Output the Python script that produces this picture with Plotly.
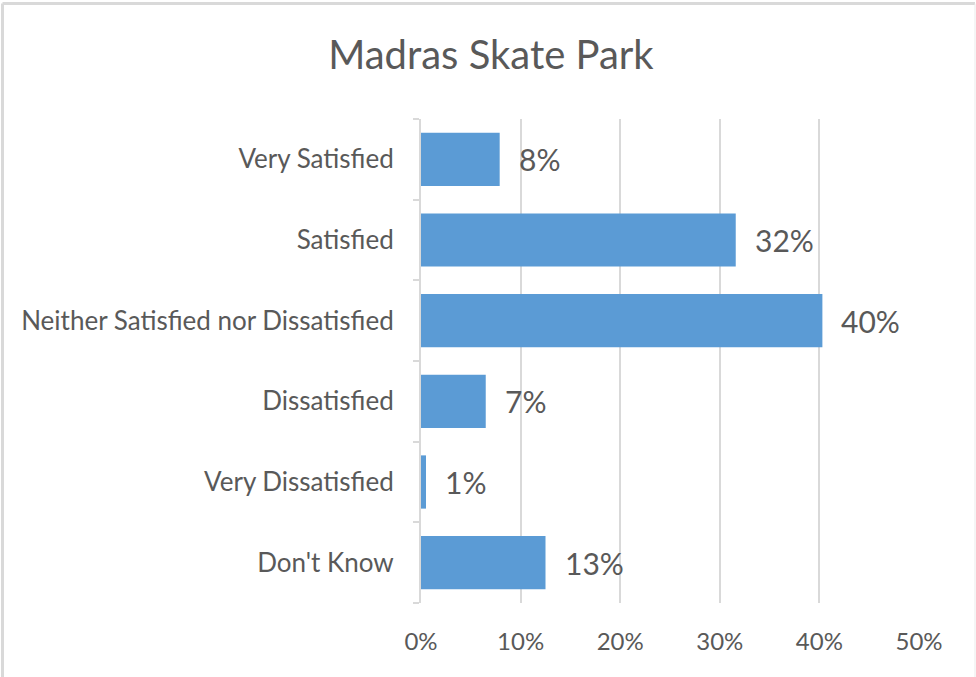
import plotly.graph_objects as go

# Survey responses, top to bottom as shown
categories = [
    "Very Satisfied",
    "Satisfied",
    "Neither Satisfied nor Dissatisfied",
    "Dissatisfied",
    "Very Dissatisfied",
    "Don't Know",
]
percent = [7.9, 31.6, 40.3, 6.5, 0.5, 12.5]
x_ticks = [0, 10, 20, 30, 40, 50]
x_tick_labels = ["0%", "10%", "20%", "30%", "40%", "50%"]

W, H = 976, 677
ML, MR, MT, MB = 421, 57, 119, 74

BAR = "#5B9BD5"
TEXT = "#595959"
GRID = "#D9D9D9"
FONT = "Lato"


def label_of(v):
    # round half up, as the spreadsheet labels do
    return f"{int(v + 0.5)}%"


fig = go.Figure(
    go.Bar(
        x=percent,
        y=categories,
        orientation="h",
        marker=dict(color=BAR, line=dict(width=0)),
        width=0.66,
        hoverinfo="skip",
    )
)

# value labels just past the end of each bar
for cat, v in zip(categories, percent):
    fig.add_annotation(
        x=v, y=cat, text=label_of(v), showarrow=False,
        xanchor="left", yanchor="middle", xshift=17, yshift=0,
        font=dict(family=FONT, size=30, color=TEXT),
    )

# light frame round the chart
pw, ph = W - ML - MR, H - MT - MB


def px_x(p):
    return (p - ML) / pw


def px_y(p):
    return (H - MB - p) / ph


frame = dict(color=GRID, width=3)
fig.add_shape(type="line", xref="paper", yref="paper",
              x0=px_x(2.5), x1=px_x(975), y0=px_y(3.5), y1=px_y(3.5), line=frame)
fig.add_shape(type="line", xref="paper", yref="paper",
              x0=px_x(2.5), x1=px_x(2.5), y0=px_y(3.5), y1=px_y(677), line=frame)
fig.add_shape(type="line", xref="paper", yref="paper",
              x0=px_x(975), x1=px_x(975), y0=px_y(3.5), y1=px_y(677),
              line=dict(color="#EBEBEB", width=1))

fig.update_layout(
    width=W, height=H,
    margin=dict(l=ML, r=MR, t=MT, b=MB, pad=0),
    paper_bgcolor="white", plot_bgcolor="white",
    showlegend=False,
    title=dict(
        text="Madras Skate Park", x=0.503, xref="container", xanchor="center",
        y=1 - 55 / H, yref="container", yanchor="middle",
        font=dict(family=FONT, size=40, color=TEXT),
    ),
    xaxis=dict(
        range=[0, 50], tickvals=x_ticks, ticktext=x_tick_labels,
        showgrid=True, gridcolor=GRID, gridwidth=1.5,
        zeroline=False, showline=False, ticks="",
        ticklabelstandoff=22,
        tickfont=dict(family=FONT, size=24, color=TEXT),
        fixedrange=True,
    ),
    yaxis=dict(
        categoryorder="array", categoryarray=categories[::-1],
        showgrid=False, zeroline=False,
        showline=True, linecolor=GRID, linewidth=2,
        ticks="outside", tickson="boundaries", ticklen=6, tickcolor=GRID, tickwidth=1.5,
        ticklabelstandoff=20,
        tickfont=dict(family=FONT, size=26, color=TEXT),
        fixedrange=True,
    ),
)

fig.write_html("out.html")
